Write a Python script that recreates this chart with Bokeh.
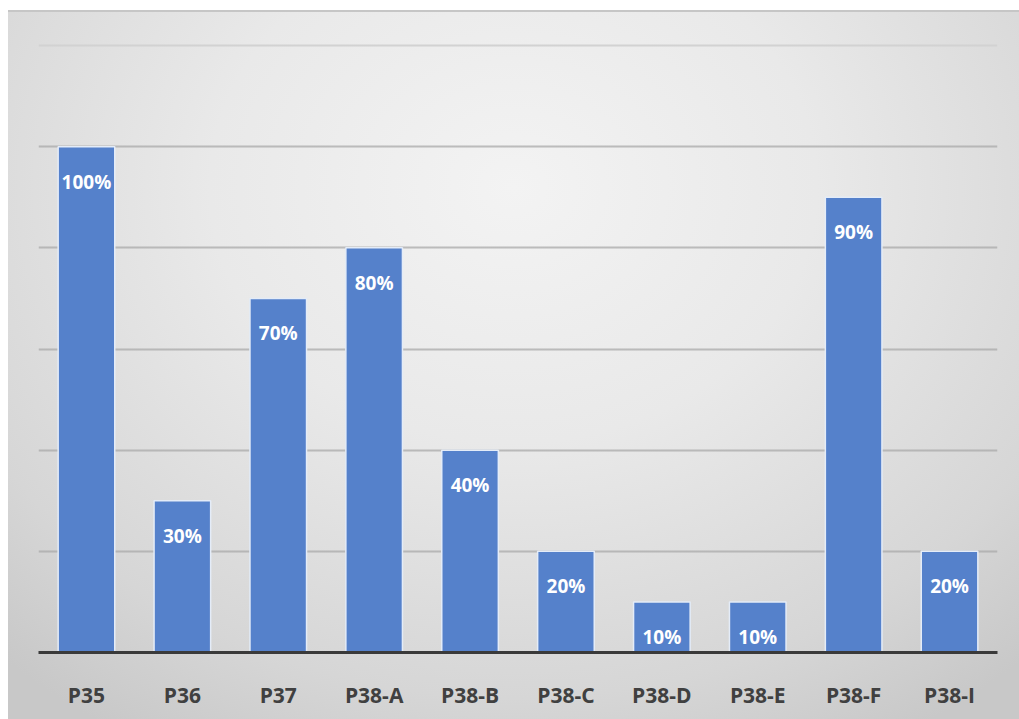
from bokeh.plotting import figure
from bokeh.models import ColumnDataSource, FixedTicker, Range1d, Grid
from bokeh.core.properties import value
from bokeh.embed import file_html
from bokeh.resources import INLINE

# Share of each project
categories = ["P35", "P36", "P37", "P38-A", "P38-B", "P38-C", "P38-D", "P38-E", "P38-F", "P38-I"]
shares = [1.00, 0.30, 0.70, 0.80, 0.40, 0.20, 0.10, 0.10, 0.90, 0.20]
grid_ticks = [0.2, 0.4, 0.6, 0.8, 1.0]
top_tick = [1.2]

source = ColumnDataSource(data=dict(
    cat=categories,
    share=shares,
    label=[f"{round(v * 100)}%" for v in shares],
))

p = figure(
    x_range=categories,
    y_range=Range1d(0, 1.21),
    width=1011,
    height=709,
    output_backend="svg",
    toolbar_location=None,
    min_border_left=30,
    min_border_right=22,
    min_border_top=30,
    min_border_bottom=67,
)

# transparent canvas so the CSS gradient of the host shows through
p.background_fill_alpha = 0
p.border_fill_alpha = 0
p.outline_line_color = None
p.styles = {
    "margin-left": "8px",
    "margin-top": "10px",
    "background": "radial-gradient(ellipse 75% 90% at 50% 25%, #f3f3f3 0%, #e9e9e9 40%, #d6d6d6 80%, #c8c8c8 100%)",
    "box-shadow": "inset 0 2px 0 #c6c6c6",
}

p.vbar(x="cat", top="share", width=0.59, source=source,
       fill_color="#5581CB", line_color="#e4ecf8", line_width=1.5)

p.text(x="cat", y="share", text="label", source=source,
       text_align="center", text_baseline="middle", y_offset=35,
       text_color="white", text_font=value("Open Sans"),
       text_font_style="bold", text_font_size="19px")

p.yaxis.visible = False
p.xgrid.grid_line_color = None
p.ygrid.ticker = FixedTicker(ticks=grid_ticks)
p.ygrid.grid_line_color = "#aaaaaa"
p.ygrid.grid_line_width = 2
p.ygrid.grid_line_alpha = 0.75

# faint uppermost gridline
top_grid = Grid(dimension=1, ticker=FixedTicker(ticks=top_tick),
                grid_line_color="#d2d2d2", grid_line_width=2)
p.add_layout(top_grid)

ax = p.xaxis[0]
ax.axis_line_color = "#3a3a3a"
ax.axis_line_width = 3
ax.major_tick_line_color = None
ax.minor_tick_line_color = None
ax.major_label_standoff = 22
ax.major_label_text_font = "Open Sans"
ax.major_label_text_font_style = "bold"
ax.major_label_text_font_size = "21px"
ax.major_label_text_color = "#404040"

open("out.html", "w").write(file_html(p, INLINE))
